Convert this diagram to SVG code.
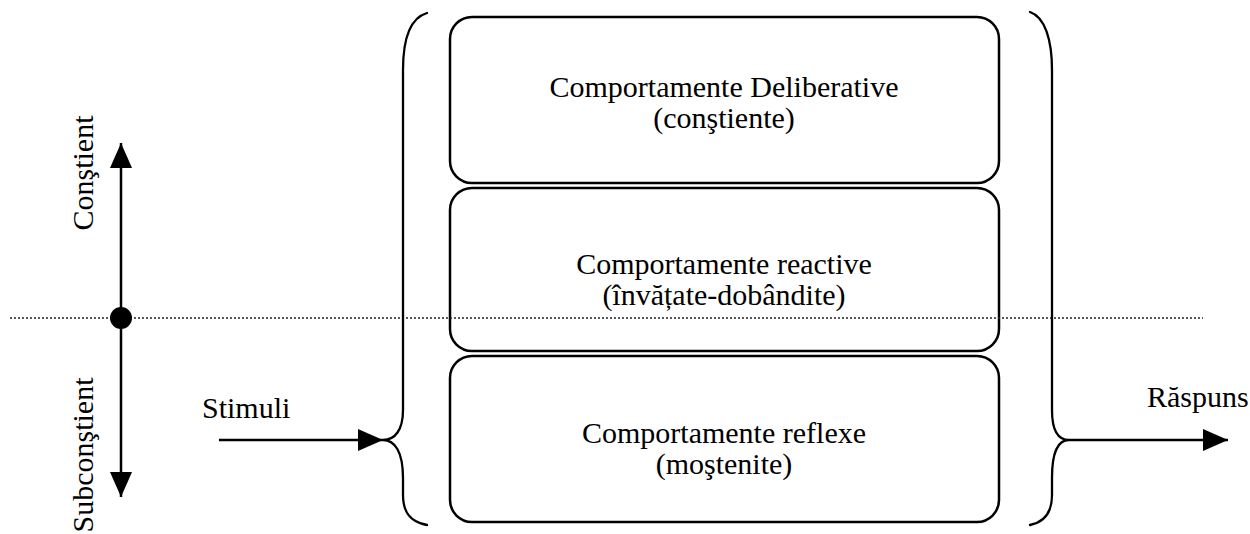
<svg xmlns="http://www.w3.org/2000/svg" width="1250" height="534" viewBox="0 0 1250 534">
  <style>
    .box { fill: #ffffff; stroke: #000000; stroke-width: 2.5; }
    .lbl { font-family: "Liberation Serif", "Times New Roman", serif; font-size: 30px; fill: #000000; }
    .mid { text-anchor: middle; }
    .line { fill: none; stroke: #000000; stroke-width: 2.5; }
    .brace { fill: none; stroke: #000000; stroke-width: 2.3; stroke-linecap: round; }
    .dots { fill: none; stroke: #222222; stroke-width: 1.5; stroke-dasharray: 2 2; }
  </style>
  <defs>
    <marker id="head" viewBox="0 0 25 22" refX="25" refY="11" markerWidth="25" markerHeight="22" markerUnits="userSpaceOnUse" orient="auto-start-reverse">
      <path d="M0,0 L25,11 L0,22 Z" fill="#000000"/>
    </marker>
  </defs>
  <rect width="1250" height="534" fill="#ffffff"/>

  <!-- Behaviour layers -->
  <g id="deliberative">
    <rect class="box" x="450" y="17" width="549" height="166" rx="22" ry="22"/>
    <text class="lbl mid" x="724" y="97">Comportamente Deliberative</text>
    <text class="lbl mid" x="724" y="128">(conştiente)</text>
  </g>
  <g id="reactive">
    <rect class="box" x="450" y="188" width="549" height="163" rx="22" ry="22"/>
    <text class="lbl mid" x="724" y="274">Comportamente reactive</text>
    <text class="lbl mid" x="724" y="305">(învățate-dobândite)</text>
  </g>
  <g id="reflex">
    <rect class="box" x="450" y="356" width="549" height="166" rx="22" ry="22"/>
    <text class="lbl mid" x="724" y="443">Comportamente reflexe</text>
    <text class="lbl mid" x="724" y="474">(moştenite)</text>
  </g>

  <!-- Awareness axis labels -->
  <g id="constient">
    <text class="lbl mid" transform="translate(93,173) rotate(-90)">Conştient</text>
  </g>
  <g id="subconstient">
    <text class="lbl mid" transform="translate(93,455) rotate(-90)">Subconştient</text>
  </g>
  <g id="stimuli">
    <text class="lbl" x="202" y="418">Stimuli</text>
  </g>
  <g id="raspuns">
    <text class="lbl" x="1147" y="407">Răspuns</text>
  </g>

  <!-- Connectors -->
  <g id="connectors">
    <line class="dots" x1="10" y1="318" x2="1203" y2="318"/>
    <path class="line" d="M121,143 L121,497" marker-start="url(#head)" marker-end="url(#head)"/>
    <circle cx="121" cy="318" r="11" fill="#000000"/>
    <path class="brace" d="M427,13 C410,18 403,40 403,70 L403,410 C403,430 395,440 383,440 C395,440 403,452 403,478 L403,495 C403,512 410,522 427,525"/>
    <path class="brace" d="M1030,12 C1045,17 1052,40 1052,70 L1052,410 C1052,430 1058,440 1069,440 C1058,440 1052,452 1052,478 L1052,495 C1052,512 1045,522 1030,525"/>
    <path class="line" d="M219,440 L383,440" marker-end="url(#head)"/>
    <path class="line" d="M1069,440 L1228,440" marker-end="url(#head)"/>
  </g>
</svg>
